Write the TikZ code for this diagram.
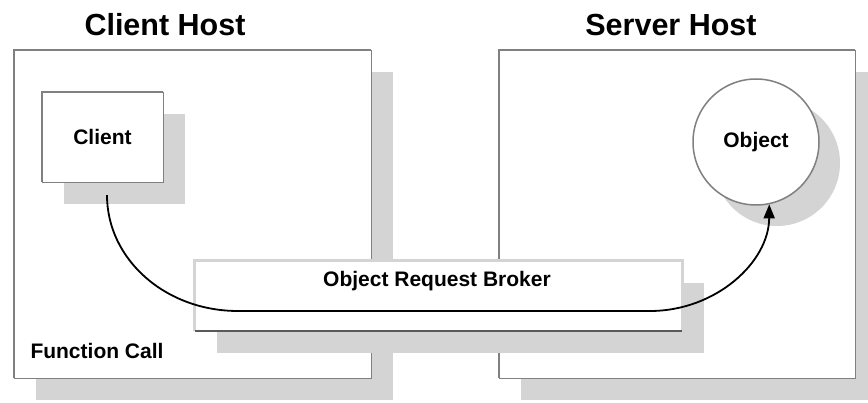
\documentclass[tikz,border=0pt]{standalone}
\usepackage{fontspec}
\setmainfont{Liberation Sans}
\usetikzlibrary{arrows.meta,shadows}
\definecolor{shadowgray}{RGB}{212,212,212}
\definecolor{edgegray}{RGB}{128,128,128}
\definecolor{darkedge}{RGB}{90,90,90}
\tikzset{
  boxshadow/.style={drop shadow={shadow xshift=22pt,shadow yshift=-22pt,opacity=1,fill=shadowgray}},
  hostbox/.style={rectangle,fill=white,inner sep=0pt,boxshadow},
  thickedge/.style={draw=edgegray,line width=2.5pt},
  thinedge/.style={draw=edgegray,line width=1pt},
  titletext/.style={font=\fontsize{30.5}{32}\selectfont\bfseries},
  smalltext/.style={font=\fontsize{21}{23}\selectfont\bfseries},
  callarrow/.style={draw=black,line width=1.8pt,-{Triangle[length=14pt,width=11pt]}}
}
\begin{document}
\begin{tikzpicture}[x=1pt,y=-1pt]
\useasboundingbox (0,0) rectangle (868,403);
% titles
\node[titletext] (cht) at (165,25) {Client Host};
\node[titletext] (sht) at (671,25) {Server Host};
% host boxes
\node[hostbox,minimum width=357pt,minimum height=328pt] (ch) at (192.5,214) {};
\draw[thickedge] (ch.south west) -- (ch.north west) -- (ch.north east);
\draw[thinedge] (ch.north east) -- (ch.south east) -- (ch.south west);
\node[hostbox,minimum width=356pt,minimum height=328pt] (sh) at (677,214) {};
\draw[thickedge] (sh.south west) -- (sh.north west) -- (sh.north east);
\draw[thinedge] (sh.north east) -- (sh.south east) -- (sh.south west);
% client box
\node[hostbox,minimum width=121pt,minimum height=90pt,smalltext] (client) at (102.5,137) {Client};
\draw[thickedge] (client.south west) -- (client.north west) -- (client.north east);
\draw[thinedge] (client.north east) -- (client.south east) -- (client.south west);
% object circle
\fill[shadowgray] (777,163) circle (63pt);
\node[circle,fill=white,draw=edgegray,line width=1.5pt,minimum size=126pt,inner sep=0pt,smalltext] (object) at (756,142) {Object};
% function call label
\node[smalltext] (fc) at (97,351) {Function Call};
% ORB box
\node[hostbox,minimum width=487pt,minimum height=70pt] (orb) at (438.5,296) {};
\draw[draw=shadowgray,line width=3pt] (orb.south west) -- (orb.north west) -- (orb.north east) -- (orb.south east);
\draw[draw=darkedge,line width=1.5pt] (orb.south west) -- (orb.south east);
\node[smalltext] (orbtext) at (437,281) {Object Request Broker};
% call arrow
\coordinate (start) at ([xshift=4.5pt,yshift=-13pt]client.south);
\draw[callarrow] (start) .. controls (107,259) and (165,311) .. (238,311)
  -- (650,311) .. controls (716,311) and (769,262) .. (object.-78);
\end{tikzpicture}
\end{document}
